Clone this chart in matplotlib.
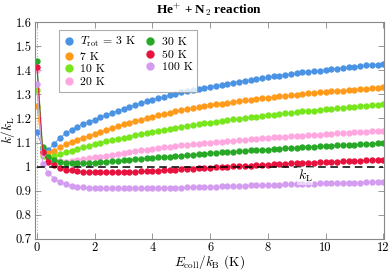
import matplotlib
matplotlib.use("Agg")
import matplotlib.pyplot as plt
from matplotlib.ticker import FuncFormatter
from matplotlib.lines import Line2D

plt.rcParams["font.family"] = "cmr10"
plt.rcParams["mathtext.fontset"] = "cm"
plt.rcParams["axes.formatter.use_mathtext"] = True

# collision energy grid (K)
e_coll = [0.0, 0.2, 0.4, 0.6, 0.8, 1.0, 1.2, 1.4, 1.6, 1.8, 2.0,
          2.2, 2.4, 2.6, 2.8, 3.0, 3.2, 3.4, 3.6, 3.8, 4.0,
          4.2, 4.4, 4.6, 4.8, 5.0, 5.2, 5.4, 5.6, 5.8, 6.0,
          6.2, 6.4, 6.6, 6.8, 7.0, 7.2, 7.4, 7.6, 7.8, 8.0,
          8.2, 8.4, 8.6, 8.8, 9.0, 9.2, 9.4, 9.6, 9.8, 10.0,
          10.2, 10.4, 10.6, 10.8, 11.0, 11.2, 11.4, 11.6, 11.8, 12.0]

k_3K = [1.145, 1.075, 1.068, 1.095, 1.120, 1.138, 1.153, 1.166, 1.177, 1.186, 1.195,
        1.205, 1.214, 1.223, 1.232, 1.240, 1.248, 1.256, 1.263, 1.271, 1.278,
        1.284, 1.290, 1.296, 1.302, 1.308, 1.313, 1.318, 1.323, 1.327, 1.332,
        1.336, 1.340, 1.345, 1.349, 1.353, 1.357, 1.361, 1.364, 1.368, 1.372,
        1.375, 1.378, 1.382, 1.385, 1.388, 1.391, 1.394, 1.397, 1.399, 1.402,
        1.405, 1.407, 1.410, 1.412, 1.415, 1.417, 1.420, 1.422, 1.424, 1.427]

k_7K = [1.250, 1.060, 1.055, 1.066, 1.081, 1.094, 1.103, 1.112, 1.120, 1.127, 1.134,
        1.143, 1.151, 1.159, 1.167, 1.175, 1.182, 1.189, 1.195, 1.201, 1.207,
        1.213, 1.218, 1.223, 1.229, 1.234, 1.238, 1.242, 1.246, 1.250, 1.254,
        1.258, 1.261, 1.265, 1.268, 1.272, 1.275, 1.278, 1.281, 1.283, 1.286,
        1.289, 1.292, 1.294, 1.297, 1.299, 1.301, 1.304, 1.306, 1.308, 1.310,
        1.312, 1.314, 1.316, 1.318, 1.320, 1.322, 1.324, 1.326, 1.328, 1.330]

k_10K = [1.320, 1.043, 1.038, 1.043, 1.051, 1.059, 1.066, 1.073, 1.080, 1.087, 1.093,
         1.099, 1.105, 1.110, 1.115, 1.120, 1.125, 1.130, 1.135, 1.140, 1.144,
         1.149, 1.153, 1.157, 1.161, 1.165, 1.169, 1.173, 1.176, 1.180, 1.183,
         1.187, 1.190, 1.193, 1.196, 1.199, 1.202, 1.205, 1.208, 1.211, 1.214,
         1.216, 1.219, 1.221, 1.224, 1.226, 1.229, 1.231, 1.233, 1.236, 1.238,
         1.240, 1.242, 1.244, 1.246, 1.248, 1.250, 1.252, 1.254, 1.256, 1.258]

k_20K = [1.400, 1.052, 1.032, 1.025, 1.022, 1.021, 1.022, 1.026, 1.030, 1.034, 1.038,
         1.042, 1.046, 1.050, 1.054, 1.058, 1.062, 1.065, 1.068, 1.071, 1.074,
         1.077, 1.080, 1.083, 1.085, 1.088, 1.090, 1.093, 1.095, 1.097, 1.100,
         1.102, 1.104, 1.106, 1.108, 1.110, 1.112, 1.114, 1.116, 1.117, 1.119,
         1.121, 1.122, 1.124, 1.126, 1.127, 1.129, 1.130, 1.132, 1.133, 1.135,
         1.136, 1.138, 1.139, 1.141, 1.142, 1.143, 1.145, 1.146, 1.148, 1.149]

k_30K = [1.440, 1.080, 1.040, 1.028, 1.021, 1.017, 1.015, 1.014, 1.014, 1.015, 1.017,
         1.018, 1.020, 1.022, 1.024, 1.026, 1.028, 1.030, 1.032, 1.034, 1.036,
         1.038, 1.040, 1.042, 1.044, 1.046, 1.048, 1.050, 1.052, 1.053, 1.055,
         1.057, 1.059, 1.060, 1.062, 1.064, 1.065, 1.067, 1.068, 1.070, 1.071,
         1.073, 1.074, 1.076, 1.077, 1.079, 1.080, 1.081, 1.083, 1.084, 1.085,
         1.086, 1.088, 1.089, 1.090, 1.091, 1.093, 1.094, 1.095, 1.096, 1.098]

k_50K = [1.415, 1.061, 1.020, 1.005, 0.995, 0.988, 0.984, 0.981, 0.979, 0.978, 0.977,
         0.977, 0.977, 0.977, 0.977, 0.978, 0.978, 0.979, 0.980, 0.981, 0.982,
         0.983, 0.985, 0.986, 0.987, 0.989, 0.990, 0.991, 0.993, 0.994, 0.995,
         0.997, 0.998, 0.999, 1.001, 1.002, 1.003, 1.004, 1.006, 1.007, 1.008,
         1.009, 1.010, 1.012, 1.013, 1.014, 1.015, 1.016, 1.017, 1.018, 1.019,
         1.020, 1.021, 1.022, 1.023, 1.024, 1.025, 1.026, 1.027, 1.028, 1.029]

k_100K = [1.345, 1.011, 0.972, 0.950, 0.936, 0.927, 0.921, 0.917, 0.914, 0.913, 0.912,
          0.911, 0.911, 0.910, 0.910, 0.910, 0.910, 0.910, 0.910, 0.911, 0.911,
          0.911, 0.912, 0.912, 0.913, 0.913, 0.914, 0.915, 0.915, 0.916, 0.917,
          0.917, 0.918, 0.919, 0.919, 0.920, 0.921, 0.922, 0.922, 0.923, 0.924,
          0.924, 0.925, 0.926, 0.926, 0.927, 0.928, 0.928, 0.929, 0.930, 0.930,
          0.931, 0.932, 0.932, 0.933, 0.934, 0.934, 0.935, 0.935, 0.936, 0.937]

labels = [r"$T_\mathrm{rot}$ = 3 K", "7 K", "10 K", "20 K", "30 K", "50 K", "100 K"]
colors = ["#4a93e4", "#ff9a1a", "#77e61c", "#ffa8e0", "#27a927", "#e8123f", "#d39cf0"]
series = [k_3K, k_7K, k_10K, k_20K, k_30K, k_50K, k_100K]

fig = plt.figure(figsize=(3.92, 2.73), dpi=100)
ax = fig.add_axes([0.089, 0.125, 0.891, 0.794])

ax.axvline(0, color="#b0b0b0", ls=":", lw=0.8, zorder=1)

for ys, c in zip(series, colors):
    ax.plot(e_coll, ys, color=c, lw=0.6, zorder=2)
    ax.plot(e_coll, ys, "o", color=c, ms=4.6, mec="none", zorder=2)

ax.hlines(1.0, 0, 12, colors="black", linestyles=(0, (5, 3)), lw=1.1, zorder=3)
ax.text(9.3, 0.962, r"$k_\mathrm{L}$", fontsize=10, ha="center", va="center",
        bbox=dict(facecolor="white", alpha=0.55, edgecolor="none", pad=0.5), zorder=4)

ax.set_xlim(-0.07, 12.03)
ax.set_ylim(0.7, 1.6)
ax.set_xticks([0, 2, 4, 6, 8, 10, 12])
ax.set_yticks([0.7, 0.8, 0.9, 1.0, 1.1, 1.2, 1.3, 1.4, 1.5, 1.6])
ax.xaxis.set_major_formatter(FuncFormatter(lambda v, p: "%g" % v))
ax.yaxis.set_major_formatter(FuncFormatter(lambda v, p: "%g" % round(v, 1)))
ax.tick_params(direction="in", top=True, right=True, length=4, width=0.6,
               color="#888888", labelsize=9, pad=2.5)
for s in ax.spines.values():
    s.set_color("#888888")
    s.set_linewidth(0.8)

ax.set_xlabel(r"$E_\mathrm{coll}/k_\mathrm{B}$ (K)", fontsize=9.5)
ax.xaxis.set_label_coords(0.5, -0.068)
ax.set_ylabel(r"$k/k_\mathrm{L}$", fontsize=9.5)
ax.yaxis.set_label_coords(-0.05, 0.5)
ax.set_title(r"He$^{\mathbf{+}}$ + N$_{\mathbf{2}}$ reaction", fontsize=9.5,
             fontweight="bold", family="Liberation Serif", pad=6)

handles = [Line2D([], [], ls="none", marker="o", color=c, ms=6, mec="none") for c in colors]
leg = ax.legend(handles, labels, ncol=2, loc="upper left", bbox_to_anchor=(0.068, 0.962),
                fontsize=8.5, frameon=True, fancybox=False, edgecolor="#999999",
                handletextpad=0.45, columnspacing=0.7, labelspacing=0.2,
                borderpad=0.4, handlelength=1.0, borderaxespad=0.0)
leg.get_frame().set_linewidth(0.8)

fig.savefig("out.png", dpi=100)
